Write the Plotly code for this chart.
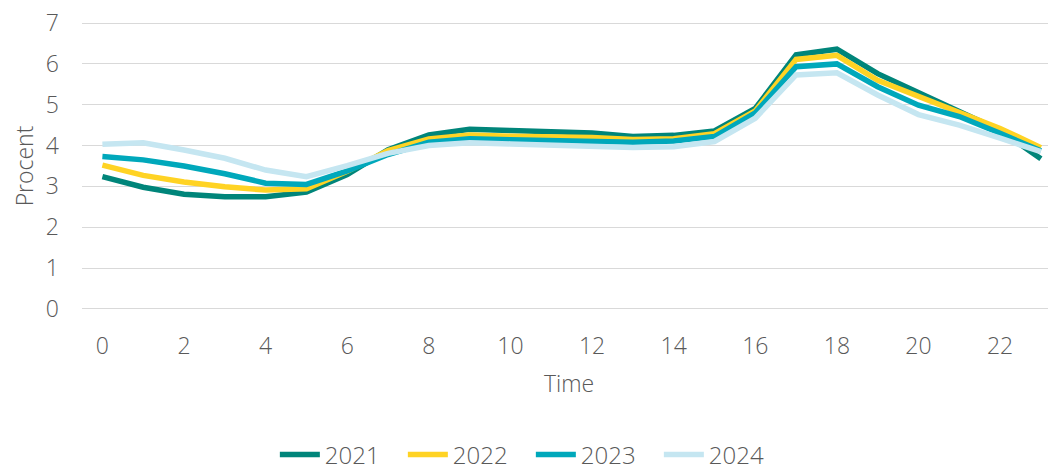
import plotly.graph_objects as go

hours = list(range(24))
y2021 = [3.24, 2.98, 2.81, 2.75, 2.75, 2.86, 3.29, 3.90, 4.26, 4.40, 4.37, 4.35, 4.31, 4.22, 4.25, 4.36,
         4.91, 6.22, 6.36, 5.76, 5.29, 4.85, 4.37, 3.68]
y2022 = [3.52, 3.27, 3.11, 2.99, 2.91, 2.94, 3.37, 3.88, 4.16, 4.26, 4.23, 4.22, 4.20, 4.15, 4.17, 4.29,
         4.85, 6.11, 6.21, 5.60, 5.20, 4.83, 4.42, 3.95]
y2023 = [3.73, 3.65, 3.50, 3.31, 3.08, 3.05, 3.38, 3.78, 4.08, 4.17, 4.14, 4.12, 4.11, 4.08, 4.11, 4.22,
         4.80, 5.93, 6.00, 5.44, 4.99, 4.71, 4.30, 3.87]
y2024 = [4.03, 4.07, 3.89, 3.69, 3.40, 3.24, 3.51, 3.81, 4.00, 4.07, 4.04, 4.01, 3.99, 3.95, 3.97, 4.10,
         4.67, 5.73, 5.78, 5.24, 4.76, 4.50, 4.18, 3.85]

series = [("2021", y2021, "#00857A"), ("2022", y2022, "#FFD324"),
          ("2023", y2023, "#00A8BB"), ("2024", y2024, "#C5E6F1")]

fig = go.Figure()
for name, vals, col in series:
    fig.add_trace(go.Scatter(x=hours, y=vals, mode="lines", name=name,
                             line=dict(color=col, width=5.5)))

ff = "Open Sans"
grey = "#595959"
fs = 23
fig.update_layout(
    width=1048, height=456,
    margin=dict(l=74, r=0, t=13, b=153),
    plot_bgcolor="white", paper_bgcolor="white",
    font=dict(family=ff, size=fs, color=grey, weight=300),
    showlegend=True,
    legend=dict(orientation="h", x=0.198, xanchor="left", xref="paper",
                y=0.02, yanchor="middle", yref="container",
                font=dict(size=24, color=grey, weight=300), entrywidth=73,
                entrywidthmode="pixels", itemwidth=40),
    xaxis=dict(range=[-0.5, 23.37], tickmode="array", tickvals=list(range(0, 24, 2)),
               showgrid=False, zeroline=False, showline=False, ticks="",
               ticklabelstandoff=19, automargin=False, ticklabeloverflow="allow",
               tickfont=dict(size=fs, color=grey, weight=300),
               title=dict(text="Time", standoff=15, font=dict(size=fs, color=grey, weight=300))),
    yaxis=dict(range=[-0.05, 7.05], tickvals=list(range(0, 8)), showgrid=True,
               gridcolor="#D9D9D9", gridwidth=1.3,
               zeroline=False, showline=False, ticks="", ticklabelstandoff=22, automargin=False,
               ticklabeloverflow="allow",
               tickfont=dict(size=fs, color=grey, weight=300),
               title=dict(text="Procent", standoff=18, font=dict(size=fs, color=grey, weight=300))),
)

fig.write_html("out.html")
